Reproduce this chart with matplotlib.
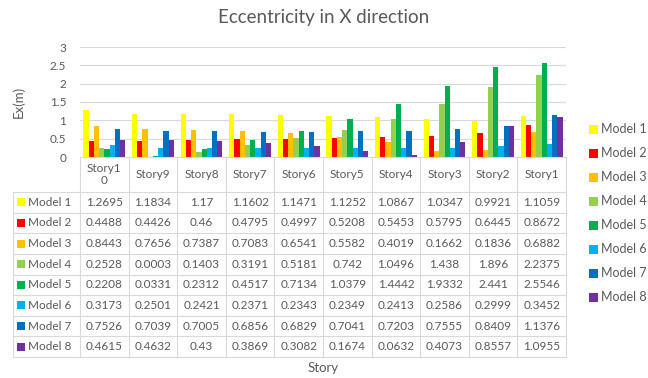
import numpy as np
import matplotlib.pyplot as plt
from matplotlib.lines import Line2D
from matplotlib.patches import Rectangle

plt.rcParams['font.family'] = ['Lato', 'DejaVu Sans']

stories = ["Story10", "Story9", "Story8", "Story7", "Story6",
           "Story5", "Story4", "Story3", "Story2", "Story1"]
story_labels = ["Story1\n0", "Story9", "Story8", "Story7", "Story6",
                "Story5", "Story4", "Story3", "Story2", "Story1"]
models = ["Model 1", "Model 2", "Model 3", "Model 4",
          "Model 5", "Model 6", "Model 7", "Model 8"]
colors = ["#FFFF00", "#FF0000", "#FFC000", "#92D050",
          "#00B050", "#00B0F0", "#0070C0", "#7030A0"]

model1 = [1.2695, 1.1834, 1.17, 1.1602, 1.1471, 1.1252, 1.0867, 1.0347, 0.9921, 1.1059]
model2 = [0.4488, 0.4426, 0.46, 0.4795, 0.4997, 0.5208, 0.5453, 0.5795, 0.6445, 0.8672]
model3 = [0.8443, 0.7656, 0.7387, 0.7083, 0.6541, 0.5582, 0.4019, 0.1662, 0.1836, 0.6882]
model4 = [0.2528, 0.0003, 0.1403, 0.3191, 0.5181, 0.742, 1.0496, 1.438, 1.896, 2.2375]
model5 = [0.2208, 0.0331, 0.2312, 0.4517, 0.7134, 1.0379, 1.4442, 1.9332, 2.441, 2.5546]
model6 = [0.3173, 0.2501, 0.2421, 0.2371, 0.2343, 0.2349, 0.2413, 0.2586, 0.2999, 0.3452]
model7 = [0.7526, 0.7039, 0.7005, 0.6856, 0.6829, 0.7041, 0.7203, 0.7555, 0.8409, 1.1376]
model8 = [0.4615, 0.4632, 0.43, 0.3869, 0.3082, 0.1674, 0.0632, 0.4073, 0.8557, 1.0955]
values = [model1, model2, model3, model4, model5, model6, model7, model8]

W, H = 648, 378
txt = "#595959"
grid = "#D9D9D9"

fig = plt.figure(figsize=(W / 100, H / 100), dpi=100)

# pixel helpers
def fx(px):
    return px / W

def fy(py):
    return 1 - py / H

x0, x1 = 80, 566
y_top, y_zero = 47, 157
ax = fig.add_axes([fx(x0), fy(y_zero), fx(x1) - fx(x0), fy(y_top) - fy(y_zero)])
ax.set_xlim(0, 10)
ax.set_ylim(0, 3)
n = len(models)
bw = 0.107
for k in range(n):
    xs = np.arange(10) + 0.5 + (k - (n - 1) / 2) * bw
    ax.bar(xs, values[k], width=bw, color=colors[k], zorder=3)
ax.set_yticks(np.arange(0, 3.01, 0.5))
ax.set_yticklabels(["0", "0.5", "1", "1.5", "2", "2.5", "3"])
ax.yaxis.grid(True, color=grid, linewidth=0.8, zorder=0)
ax.set_xticks([])
for s in ax.spines.values():
    s.set_visible(False)
ax.tick_params(axis='y', length=0, labelsize=8.5, labelcolor=txt, pad=10)
ax.set_ylabel("Ex(m)", fontsize=9.5, color=txt, labelpad=18)

fig.text(0.5, fy(18), "Eccentricity in X direction", ha='center', va='center',
         fontsize=13.5, color=txt)

# data table
tab = fig.add_axes([0, 0, 1, 1])
tab.set_xlim(0, W)
tab.set_ylim(H, 0)
tab.axis('off')
colw = (x1 - x0) / 10
head_top, head_bot = y_zero, 192
rowh = (357 - head_bot) / n
lc = "#D9D9D9"
lw = 0.8
# vertical lines
for i in range(11):
    xv = x0 + i * colw
    tab.add_line(Line2D([xv, xv], [head_top, head_bot + n * rowh], color=lc, lw=lw))
tab.add_line(Line2D([13, 13], [head_bot, head_bot + n * rowh], color=lc, lw=lw))
# horizontal lines
tab.add_line(Line2D([x0, x1], [head_top, head_top], color=lc, lw=lw))
for r in range(n + 1):
    yv = head_bot + r * rowh
    tab.add_line(Line2D([13, x1], [yv, yv], color=lc, lw=lw))
for i, lab in enumerate(story_labels):
    tab.text(x0 + (i + 0.5) * colw, (head_top + head_bot) / 2, lab, ha='center',
             va='center', fontsize=8.5, color=txt, linespacing=1.2)
for r in range(n):
    yc = head_bot + (r + 0.5) * rowh
    tab.add_patch(Rectangle((17, yc - 4), 8, 8, color=colors[r], lw=0))
    tab.text(28, yc, models[r], ha='left', va='center', fontsize=8.5, color=txt)
    for i in range(10):
        v = values[r][i]
        tab.text(x0 + (i + 0.5) * colw, yc, f"{v:g}", ha='center', va='center',
                 fontsize=8.5, color=txt)
tab.text((x0 + x1) / 2, 368, "Story", ha='center', va='center', fontsize=9.5, color=txt)

# legend
for r in range(n):
    yc = 129 + r * 24
    tab.add_patch(Rectangle((589, yc - 4.5), 9, 9, color=colors[r], lw=0))
    tab.text(601, yc, models[r], ha='left', va='center', fontsize=9, color=txt)

fig.savefig("out.png", dpi=100)
